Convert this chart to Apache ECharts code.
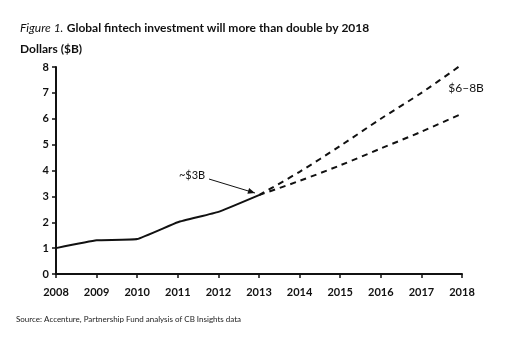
<!DOCTYPE html>
<html>
<head>
<meta charset="UTF-8">
<title>Global fintech investment</title>
<script src="https://cdn.jsdelivr.net/npm/echarts@6/dist/echarts.min.js"></script>
<style>
  html, body { margin: 0; padding: 0; background: #fff; }
  #main { width: 529px; height: 354px; }
</style>
</head>
<body>
<div id="main"></div>
<script>
// years on the x axis
var years = [2008, 2009, 2010, 2011, 2012, 2013, 2014, 2015, 2016, 2017, 2018];
// actual investment, $B
var actual = [1.0, 1.3, 1.35, 2.0, 2.4, 3.05];
// forecast range 2013-2018
var forecastYears = [2013, 2014, 2015, 2016, 2017, 2018];
var forecastHigh = [3.05, 3.95, 4.95, 6.0, 7.0, 8.1];
var forecastLow = [3.05, 3.6, 4.2, 4.85, 5.5, 6.2];
var yTicks = [0, 1, 2, 3, 4, 5, 6, 7, 8];

var font = 'Lato, "Open Sans", sans-serif';

function pairs(xs, ys) {
    var out = [];
    for (var i = 0; i < ys.length; i++) out.push([xs[i], ys[i]]);
    return out;
}

var chart = echarts.init(document.getElementById('main'));

var option = {
    animation: false,
    backgroundColor: '#fff',
    grid: { left: 56, right: 67, top: 67, bottom: 80 },
    xAxis: {
        type: 'value',
        min: years[0], max: years[years.length - 1], interval: 1,
        splitLine: { show: false },
        axisLine: { lineStyle: { color: '#111', width: 2 } },
        axisTick: { show: true, length: 4, lineStyle: { color: '#111', width: 1.5 } },
        axisLabel: {
            color: '#111', fontFamily: font, fontWeight: 'bold', fontSize: 11, margin: 13,
            formatter: function (v) { return String(v); }
        }
    },
    yAxis: {
        type: 'value',
        min: yTicks[0], max: yTicks[yTicks.length - 1], interval: 1,
        splitLine: { show: false },
        axisLine: { show: true, lineStyle: { color: '#111', width: 2 } },
        axisTick: { show: true, length: 4, lineStyle: { color: '#111', width: 1.5 } },
        axisLabel: { color: '#111', fontFamily: font, fontWeight: 'bold', fontSize: 11, margin: 7 }
    },
    series: [
        {
            type: 'line', data: pairs(years, actual), symbol: 'none', smooth: 0.1,
            lineStyle: { color: '#111', width: 2 }
        },
        {
            type: 'line', data: pairs(forecastYears, forecastHigh), symbol: 'none', smooth: 0.3,
            lineStyle: { color: '#111', width: 2, type: [6, 5] }
        },
        {
            type: 'line', data: pairs(forecastYears, forecastLow), symbol: 'none', smooth: 0.3,
            lineStyle: { color: '#111', width: 2, type: [6, 5] }
        }
    ]
};
chart.setOption(option);

// annotations positioned in data space
var p3 = chart.convertToPixel({ gridIndex: 0 }, [2012.9, 3.13]);
var pArrowStart = chart.convertToPixel({ gridIndex: 0 }, [2011.77, 3.67]);
var pLbl3 = chart.convertToPixel({ gridIndex: 0 }, [2011.35, 3.82]);
var pLbl68 = chart.convertToPixel({ gridIndex: 0 }, [2018.1, 7.2]);

var dx = p3[0] - pArrowStart[0], dy = p3[1] - pArrowStart[1];
var ang = Math.atan2(dy, dx);
var tip = p3;
var headLen = 7, headW = 3;
var head = [
    tip,
    [tip[0] - headLen * Math.cos(ang) + headW * Math.sin(ang), tip[1] - headLen * Math.sin(ang) - headW * Math.cos(ang)],
    [tip[0] - headLen * Math.cos(ang) - headW * Math.sin(ang), tip[1] - headLen * Math.sin(ang) + headW * Math.cos(ang)]
];

chart.setOption({
    graphic: [
        {
            type: 'text', left: 20, top: 22,
            style: {
                text: '{i|Figure 1.} {b|Global fintech investment will more than double by 2018}',
                rich: {
                    i: { fontFamily: font, fontStyle: 'italic', fontSize: 12, fill: '#111' },
                    b: { fontFamily: font, fontWeight: 'bold', fontSize: 12, fill: '#111' }
                }
            }
        },
        {
            type: 'text', left: 20, top: 43,
            style: { text: 'Dollars ($B)', fontFamily: font, fontWeight: 'bold', fontSize: 12, fill: '#111' }
        },
        {
            type: 'text', left: 16, top: 315,
            style: { text: 'Source: Accenture, Partnership Fund analysis of CB Insights data', fontFamily: font, fontSize: 8, fill: '#222' }
        },
        {
            type: 'text', x: pLbl3[0], y: pLbl3[1],
            style: { text: '~$3B', fontFamily: font, fontSize: 11, fill: '#111', align: 'center', verticalAlign: 'middle' }
        },
        {
            type: 'text', x: pLbl68[0], y: pLbl68[1],
            style: { text: '$6–8B', fontFamily: font, fontSize: 12, fill: '#111', align: 'center', verticalAlign: 'middle' }
        },
        {
            type: 'line',
            shape: { x1: pArrowStart[0], y1: pArrowStart[1], x2: tip[0], y2: tip[1] },
            style: { stroke: '#111', lineWidth: 1 }
        },
        {
            type: 'polygon',
            shape: { points: head },
            style: { fill: '#111' }
        }
    ]
});
</script>
</body>
</html>
